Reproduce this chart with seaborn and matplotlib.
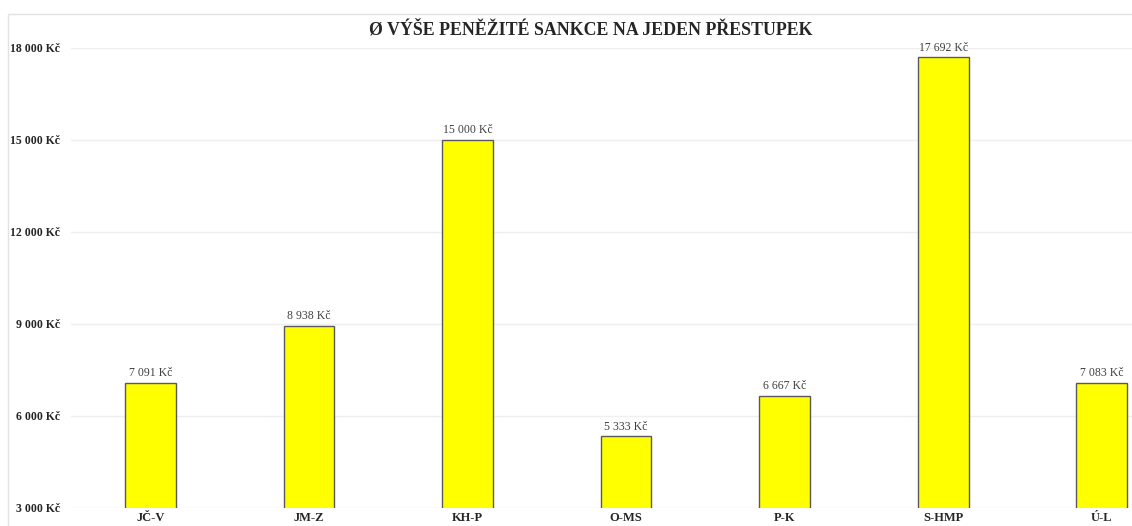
import matplotlib.pyplot as plt
import seaborn as sns
import pandas as pd
from matplotlib.patches import Rectangle

regions = ["JČ-V", "JM-Z", "KH-P", "O-MS", "P-K", "S-HMP", "Ú-L"]
avg_fine = [7091, 8938, 15000, 5333, 6667, 17692, 7083]
y_ticks = [3000, 6000, 9000, 12000, 15000, 18000]

df = pd.DataFrame({"region": regions, "fine": avg_fine})

sns.set_theme(style="white")
plt.rcParams['font.family'] = ['Liberation Serif', 'DejaVu Serif']

fig = plt.figure(figsize=(11.32, 5.26), dpi=100)
ax = fig.add_axes([71 / 1132, 1 - 508 / 526, 1 - 71 / 1132, (508 - 48) / 526])

# outer chart frame
fig.patches.append(Rectangle((8 / 1132, -0.05), 1.0, 1 - 14 / 526 + 0.05,
                             transform=fig.transFigure, fill=False,
                             edgecolor='#e3e3e3', lw=1))

sns.barplot(data=df, x="region", y="fine", color='#ffff00', width=0.32,
            edgecolor='#595959', linewidth=1, saturation=1, ax=ax, zorder=3)

ax.set_ylim(3000, 18000)
ax.set_xlim(-0.5, 6.19)
ax.set_yticks(y_ticks)
ax.set_yticklabels([f"{v:,} Kč".replace(",", " ") for v in y_ticks],
                   fontweight='bold', fontsize=8.5)
ax.set_xticklabels(regions, fontweight='bold', fontsize=9)
ax.tick_params(axis='x', length=0, pad=3)
ax.tick_params(axis='y', length=0, pad=8)
ax.yaxis.grid(True, color='#efefef', lw=1, zorder=0)
ax.set_xlabel("")
ax.set_ylabel("")
for s in ax.spines.values():
    s.set_visible(False)

for i, v in enumerate(avg_fine):
    ax.text(i, v + 120, f"{v:,} Kč".replace(",", " "), ha='center', va='bottom',
            fontsize=8.5, color='#404040')

fig.text(0.522, 1 - 30 / 526, "Ø VÝŠE PENĚŽITÉ SANKCE NA JEDEN PŘESTUPEK",
         ha='center', va='center', fontsize=12.9, fontweight='bold')

fig.savefig("out.png", dpi=100)
